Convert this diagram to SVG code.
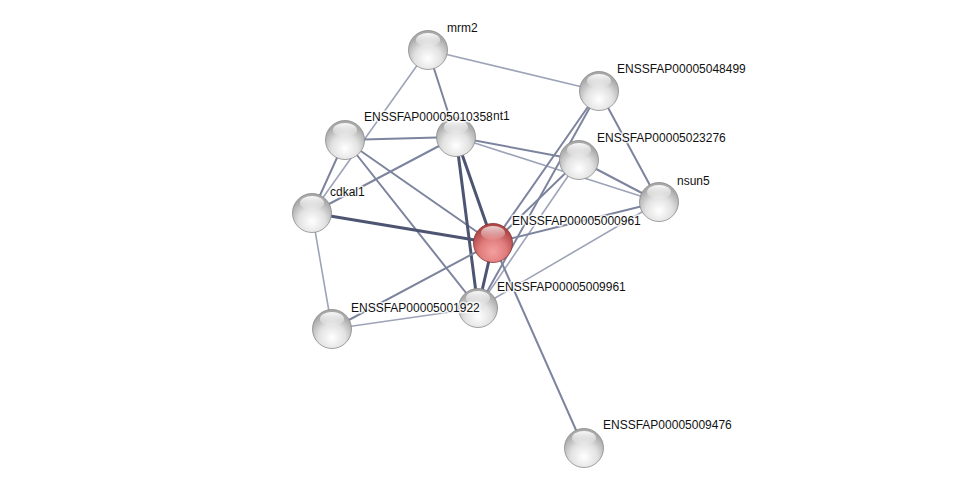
<svg xmlns="http://www.w3.org/2000/svg" width="975" height="492" viewBox="0 0 975 492">
<style>
.e{fill:none;stroke-linecap:round}
.l1{stroke:#9ea4b8;stroke-width:1.6}
.l2{stroke:#7d849e;stroke-width:2}
.l3{stroke:#5d6583;stroke-width:2.4}
.l4{stroke:#4d5573;stroke-width:3}
.t{font-family:"Liberation Sans",Arial,sans-serif;font-size:12px;fill:#111;stroke:#fff;stroke-width:3;stroke-opacity:0.8;paint-order:stroke;stroke-linejoin:round}
</style>
<defs>
<radialGradient id="g" cx="0.5" cy="0.72" r="0.62">
<stop offset="0" stop-color="#ffffff"/>
<stop offset="0.55" stop-color="#e2e2e2"/>
<stop offset="1" stop-color="#a8a8a8"/>
</radialGradient>
<radialGradient id="gr" cx="0.5" cy="0.72" r="0.62">
<stop offset="0" stop-color="#f4a0a0"/>
<stop offset="0.55" stop-color="#e07c7c"/>
<stop offset="1" stop-color="#b04848"/>
</radialGradient>
<linearGradient id="hl" x1="0" y1="0" x2="0" y2="1">
<stop offset="0" stop-color="#fff" stop-opacity="0.95"/>
<stop offset="1" stop-color="#fff" stop-opacity="0.05"/>
</linearGradient>
<g id="ball">
<circle r="19.5" fill="url(#g)" stroke="#8a8a8a" stroke-width="0.8"/>
<ellipse cy="-10" rx="12" ry="7" fill="url(#hl)"/>
</g>
<g id="rball">
<circle r="19.5" fill="url(#gr)" stroke="#8a3030" stroke-width="0.8"/>
<ellipse cy="-10" rx="12" ry="7" fill="url(#hl)" opacity="0.8"/>
</g>
</defs>
<rect width="975" height="492" fill="#fff"/>
<g id="edges" class="e">
<line class="l1" x1="428" y1="50" x2="599" y2="91"/>
<line class="l1" x1="428" y1="50" x2="312" y2="213"/>
<line class="l2" x1="428" y1="50" x2="456" y2="137"/>
<line class="l2" x1="345" y1="140" x2="456" y2="137"/>
<line class="l2" x1="345" y1="140" x2="312" y2="213"/>
<line class="l2" x1="345" y1="140" x2="493" y2="243"/>
<line class="l2" x1="345" y1="140" x2="478" y2="308"/>
<line class="l2" x1="312" y1="213" x2="456" y2="137"/>
<line class="l4" x1="312" y1="213" x2="493" y2="243"/>
<line class="l1" x1="312" y1="213" x2="332" y2="329"/>
<line class="l4" x1="456" y1="137" x2="493" y2="243"/>
<line class="l4" x1="456" y1="137" x2="478" y2="308"/>
<line class="l2" x1="456" y1="137" x2="579" y2="160"/>
<line class="l1" x1="456" y1="137" x2="659" y2="202"/>
<line class="l2" x1="599" y1="91" x2="493" y2="243"/>
<line class="l2" x1="599" y1="91" x2="478" y2="308"/>
<line class="l2" x1="599" y1="91" x2="659" y2="202"/>
<line class="l2" x1="579" y1="160" x2="493" y2="243"/>
<line class="l1" x1="579" y1="160" x2="478" y2="308"/>
<line class="l2" x1="579" y1="160" x2="659" y2="202"/>
<line class="l2" x1="659" y1="202" x2="493" y2="243"/>
<line class="l1" x1="659" y1="202" x2="478" y2="308"/>
<line class="l4" x1="493" y1="243" x2="478" y2="308"/>
<line class="l2" x1="493" y1="243" x2="332" y2="329"/>
<line class="l2" x1="493" y1="243" x2="584" y2="448"/>
<line class="l1" x1="478" y1="308" x2="332" y2="329"/>
</g>
<g id="n-mrm2"><use href="#ball" x="428" y="50"/></g>
<g id="n-048499"><use href="#ball" x="599" y="91"/></g>
<g id="n-010358"><use href="#ball" x="345" y="140"/></g>
<g id="n-nt1"><use href="#ball" x="456" y="137"/></g>
<g id="n-023276"><use href="#ball" x="579" y="160"/></g>
<g id="n-nsun5"><use href="#ball" x="659" y="202"/></g>
<g id="n-cdkal1"><use href="#ball" x="312" y="213"/></g>
<g id="n-000961"><use href="#rball" x="493" y="243"/></g>
<g id="n-009961"><use href="#ball" x="478" y="308"/></g>
<g id="n-001922"><use href="#ball" x="332" y="329"/></g>
<g id="n-009476"><use href="#ball" x="584" y="448"/></g>
<g id="labels">
<text class="t" x="447" y="32">mrm2</text>
<text class="t" x="617" y="73">ENSSFAP00005048499</text>
<text class="t" x="493" y="120">nt1</text>
<text class="t" x="364" y="121">ENSSFAP00005010358</text>
<text class="t" x="597" y="142">ENSSFAP00005023276</text>
<text class="t" x="677" y="185">nsun5</text>
<text class="t" x="330" y="196">cdkal1</text>
<text class="t" x="512" y="225">ENSSFAP00005000961</text>
<text class="t" x="497" y="291">ENSSFAP00005009961</text>
<text class="t" x="351" y="312">ENSSFAP00005001922</text>
<text class="t" x="603" y="429">ENSSFAP00005009476</text>
</g>
</svg>
